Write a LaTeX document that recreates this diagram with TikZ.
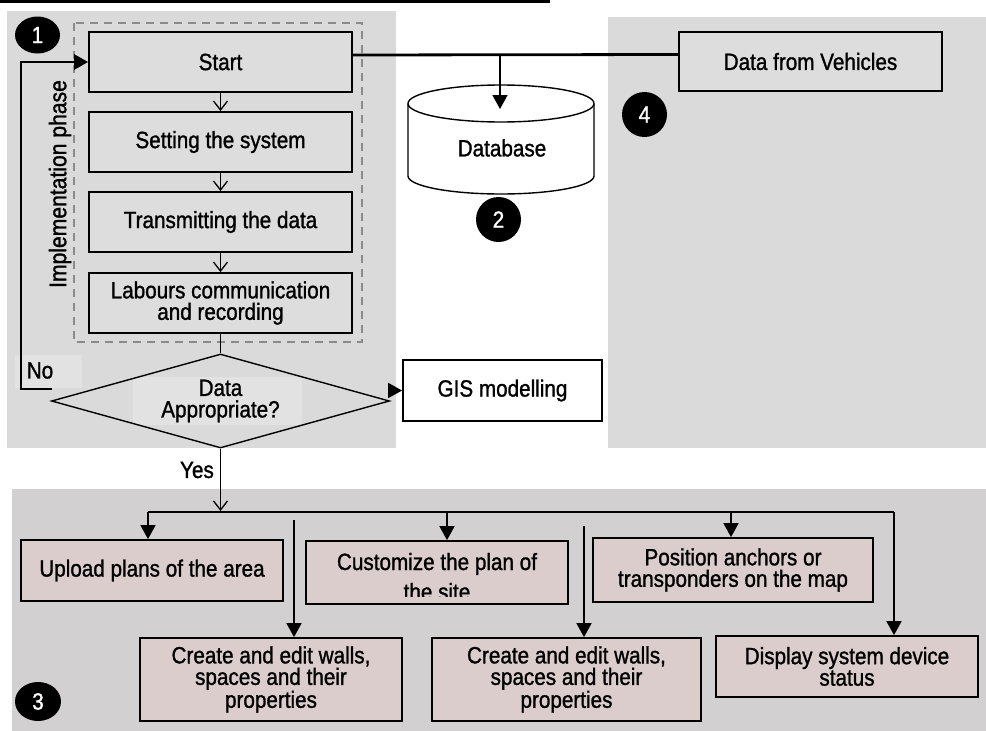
\documentclass[tikz,border=0pt]{standalone}
\usepackage{fontspec}
\setmainfont{Liberation Sans}[FakeStretch=0.88, FakeBold=1.2]
\usetikzlibrary{shapes.geometric,arrows.meta}
\definecolor{panelA}{HTML}{DADADA}
\definecolor{panelB}{HTML}{D3D0D1}
\definecolor{boxgray}{HTML}{DDDDDD}
\definecolor{pinkfill}{HTML}{DCCDCD}
\definecolor{dashgray}{HTML}{8A8A8A}
\definecolor{patch}{HTML}{E2E2E2}
\begin{document}
\begin{tikzpicture}[x=1pt,y=-1pt,
  every node/.style={font=\fontsize{23.5}{21.5}\selectfont, inner sep=0pt, align=center},
  graybox/.style={draw=black, line width=1.8pt, fill=boxgray},
  whitebox/.style={draw=black, line width=1.8pt, fill=white},
  pinkbox/.style={draw=black, line width=1.8pt, fill=pinkfill},
  badge/.style={ellipse, fill=black, text=white},
  openarrow/.style={line width=1.3pt, -{Straight Barb[length=9pt,width=14pt]}},
  fillarrow/.style={line width=1.8pt, -{Triangle[length=14pt,width=15pt]}},
  heavy/.style={line width=2.8pt}
]
\useasboundingbox (0,0) rectangle (986,731);

% background panels
\draw[line width=3pt] (0,1.5) -- (550,1.5);
\fill[panelA] (7,11) rectangle (396,448);
\fill[panelA] (608,17) rectangle (986,448);
\fill[panelB] (12,489) rectangle (986,731);
\fill[patch] (15,355) rectangle (82,388);
\fill[patch] (133,377) rectangle (302,425);

% implementation phase frame
\draw[dashgray, line width=1.6pt, dash pattern=on 8pt off 6pt] (74,23) rectangle (362,342);
\node[rotate=90, font=\fontsize{24}{24}\selectfont] (phase) at (60,184) {Implementation phase};

% process steps
\node[graybox, minimum width=263pt, minimum height=60pt] (st) at (220.5,62) {Start};
\node[graybox, minimum width=263pt, minimum height=60pt] (sy) at (220.5,142) {Setting the system};
\node[graybox, minimum width=263pt, minimum height=60pt] (tr) at (220.5,222) {Transmitting the data};
\node[graybox, minimum width=263pt, minimum height=60pt] (lb) at (220.5,303) {Labours communication\\and recording};
\node[diamond, draw=black, line width=1.4pt, aspect=3.6, minimum width=338pt, minimum height=94pt] (dq) at (220.5,401) {Data\\Appropriate?};

\draw[openarrow] (st) -- (sy);
\draw[openarrow] (sy) -- (tr);
\draw[openarrow] (tr) -- (lb);
\draw[line width=1.4pt] (lb) -- (dq);

% "No" loop back to start
\coordinate (nostub) at (52,389);
\draw[heavy, -{Triangle[length=14pt,width=15pt]}] (nostub) -- ++(-31,0) |- (st.west);
\node (no) at (40,370.5) {No};

% data storage and vehicles
\node[graybox, minimum width=263pt, minimum height=59pt] (dv) at (810.5,61.5) {Data from Vehicles};
\draw[heavy] ([yshift=7pt]st.east) -- ([yshift=7pt]dv.west);
\filldraw[fill=white, line width=1.4pt] (408,103.5) -- (408,176)
  arc[start angle=180, end angle=360, x radius=93pt, y radius=18pt] -- (594,103.5)
  arc[start angle=0, end angle=180, x radius=93pt, y radius=18.5pt] -- cycle;
\draw[line width=1.4pt] (408,103.5) arc[start angle=180, end angle=360, x radius=93pt, y radius=18.5pt];
\node (db) at (502,148) {Database};
\coordinate (busdb) at (500,55);
\coordinate (dbin) at (500,109);
\draw[line width=1.6pt, -{Triangle[length=14pt,width=15pt]}] (busdb) -- (dbin);

% GIS output
\node[whitebox, minimum width=199pt, minimum height=61pt] (gis) at (502.5,390.5) {GIS modelling};
\draw[fillarrow] (dq.east |- gis.west) -- (gis.west);

% numbered badges
\node[badge, minimum width=45pt, minimum height=37pt] (n1) at (37.5,35) {1};
\node[badge, minimum width=45pt, minimum height=45pt] (n2) at (498.5,219.5) {2};
\node[badge, minimum width=46pt, minimum height=39pt] (n3) at (38,701.5) {3};
\node[badge, minimum width=45pt, minimum height=45pt] (n4) at (644.5,114.5) {4};

% "Yes" branch
\coordinate (bus) at (220.5,511);
\draw[openarrow] (dq.south) -- (bus);
\node[anchor=east] (yes) at (214,470) {Yes};

% tasks
\node[pinkbox, minimum width=262pt, minimum height=61pt] (up) at (152,570.5) {Upload plans of the area};
\node[pinkbox, minimum width=262pt, minimum height=63pt] (cu) at (437,572.5) {};
\begin{scope}
  \clip (307,542) rectangle (567,596);
  \node[anchor=base] (cu1) at (437,570) {Customize the plan of};
  \node[anchor=base] (cu2) at (437,600) {the site};
\end{scope}
\node[pinkbox, minimum width=280pt, minimum height=64pt] (po) at (733,570) {Position anchors or\\transponders on the map};
\node[pinkbox, minimum width=262pt, minimum height=83pt] (c1) at (271,679.5) {Create and edit walls,\\spaces and their\\properties};
\node[pinkbox, minimum width=269pt, minimum height=83pt] (c2) at (566.5,679.5) {Create and edit walls,\\spaces and their\\properties};
\node[pinkbox, minimum width=262pt, minimum height=61pt] (ds) at (847,666.5) {Display system device\\status};

% distribution bus
\coordinate (bL) at (148,512);
\coordinate (bC) at (447,512);
\coordinate (bP) at (731,512);
\coordinate (bR) at (894,512);
\draw[heavy] (bL) -- (bR);
\draw[fillarrow] (bL) -- (bL |- up.north);
\draw[fillarrow] (bC) -- (bC |- cu.north);
\draw[fillarrow] (bP) -- (bP |- po.north);
\draw[fillarrow] (bR) -- (bR |- ds.north);
\coordinate (f1) at (294,520);
\coordinate (f2) at (584,526);
\draw[fillarrow] (f1) -- (f1 |- c1.north);
\draw[fillarrow] (f2) -- (f2 |- c2.north);
\end{tikzpicture}
\end{document}
